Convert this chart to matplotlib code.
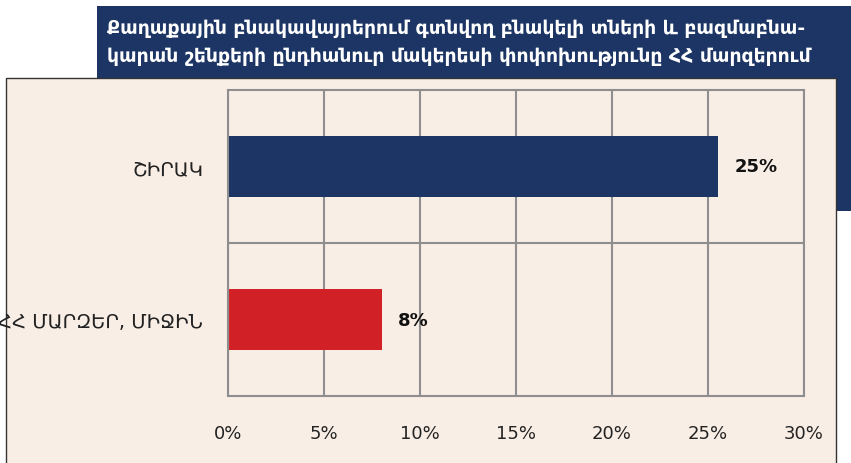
import matplotlib
matplotlib.use('Agg')
import matplotlib.pyplot as plt
from matplotlib.patches import Rectangle

categories = ['ՀՀ ՄԱՐԶԵՐ, ՄԻՋԻՆ', 'ՇԻՐԱԿ']
values = [8.0, 25.5]
value_labels = ['8%', '25%']
bar_colors = ['#D22027', '#1D3564']
ticks = [0, 5, 10, 15, 20, 25, 30]
tick_labels = ['0%', '5%', '10%', '15%', '20%', '25%', '30%']
title_lines = ['Քաղաքային բնակավայրերում գտնվող բնակելի տների և բազմաբնա-',
               'կարան շենքերի ընդհանուր մակերեսի փոփոխությունը ՀՀ մարզերում']

W, H = 851, 464
navy = '#1D3564'
cream = '#F9EEE6'
grid = '#8E8E8E'

fig = plt.figure(figsize=(W / 100, H / 100), dpi=100)
fig.patch.set_facecolor('white')


def px_rect(x0, y0, x1, y1, **kw):
    # pixel box (top-left origin) -> figure fraction rectangle
    return Rectangle((x0 / W, 1 - y1 / H), (x1 - x0) / W, (y1 - y0) / H,
                     transform=fig.transFigure, **kw)


fig.patches.append(px_rect(97, 7, 860, 212, facecolor=navy, edgecolor='none', zorder=0))
fig.patches.append(px_rect(6, 79, 836, 470, facecolor=cream, edgecolor='#333333',
                           linewidth=1.0, zorder=1))

for i, line in enumerate(title_lines):
    fig.text(107 / W, 1 - (29 + i * 27) / H, line, color='white', fontsize=13.5,
             fontweight='bold', va='center', ha='left', family='DejaVu Sans', zorder=2)

ax = fig.add_axes([228 / W, 1 - 397 / H, (804 - 228) / W, (397 - 91) / H])
ax.set_zorder(3)
ax.patch.set_alpha(0)

y = list(range(len(categories)))
ax.barh(y, values, height=0.4, color=bar_colors, zorder=2)
ax.set_xlim(0, 30)
ax.set_ylim(-0.5, 1.5)
ax.set_xticks(ticks)
ax.set_xticklabels(tick_labels)
ax.set_yticks(y)
ax.set_yticklabels(categories)
ax.tick_params(axis='x', length=0, labelsize=13, colors='#222222', pad=20)
ax.tick_params(axis='y', length=0, labelsize=14, colors='#222222', pad=18)
ax.xaxis.grid(True, color=grid, linewidth=1.5, zorder=0)
ax.axhline(0.5, color=grid, linewidth=1.5, zorder=0)
for s in ax.spines.values():
    s.set_color(grid)
    s.set_linewidth(1.5)

for yi, v, lab in zip(y, values, value_labels):
    ax.annotate(lab, (v, yi), xytext=(12, 0), textcoords='offset points',
                va='center', ha='left', fontsize=13, fontweight='bold', color='#111111')

fig.savefig('out.png', dpi=100)
